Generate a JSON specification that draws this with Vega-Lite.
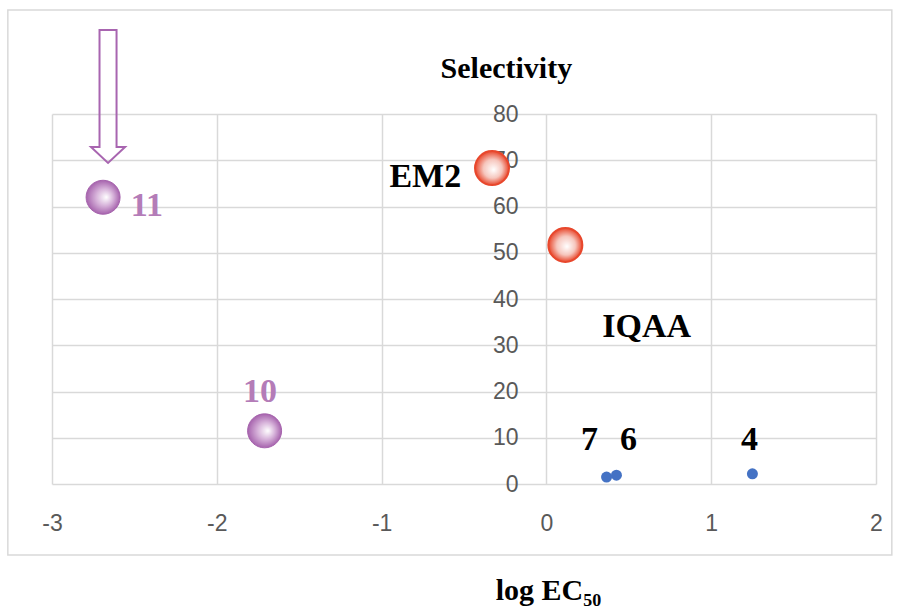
{
  "$schema": "https://vega.github.io/schema/vega-lite/v6.json",
  "width": 824,
  "height": 370,
  "autosize": "none",
  "padding": {"left": 52, "top": 114, "right": 30, "bottom": 123},
  "background": "white",
  "config": {
    "view": {"stroke": null},
    "axis": {"gridColor": "#d9d9d9", "gridWidth": 1.5, "domainColor": "#d9d9d9", "domainWidth": 1.5}
  },
  "datasets": {
    "pts": [
      {"compound": "11", "logEC50": -2.69, "selectivity": 62.0, "group": "purple"},
      {"compound": "10", "logEC50": -1.71, "selectivity": 11.5, "group": "purple"},
      {"compound": "EM2", "logEC50": -0.33, "selectivity": 68.3, "group": "red"},
      {"compound": "IQAA", "logEC50": 0.115, "selectivity": 51.7, "group": "red"},
      {"compound": "7", "logEC50": 0.365, "selectivity": 1.5, "group": "blue"},
      {"compound": "6", "logEC50": 0.425, "selectivity": 1.9, "group": "blue"},
      {"compound": "4", "logEC50": 1.25, "selectivity": 2.2, "group": "blue"}
    ],
    "labels": [
      {"text": "11", "lx": -2.424, "ly": 60.1, "tone": "purple"},
      {"text": "10", "lx": -1.738, "ly": 19.9, "tone": "purple"},
      {"text": "EM2", "lx": -0.735, "ly": 66.4, "tone": "black"},
      {"text": "IQAA", "lx": 0.608, "ly": 33.9, "tone": "black"},
      {"text": "7", "lx": 0.261, "ly": 9.5, "tone": "black"},
      {"text": "6", "lx": 0.498, "ly": 9.5, "tone": "black"},
      {"text": "4", "lx": 1.233, "ly": 9.5, "tone": "black"}
    ],
    "heading": [{"text": "Selectivity", "lx": -0.243, "ly": 89.7}],
    "one": [{}]
  },
  "layer": [
    {
      "data": {"name": "one"},
      "mark": {"type": "rect", "fillOpacity": 0, "stroke": "#d9d9d9", "strokeWidth": 1.5, "clip": false},
      "encoding": {
        "x": {"datum": -3.268, "type": "quantitative"},
        "x2": {"datum": 2.096},
        "y": {"datum": 102.5, "type": "quantitative"},
        "y2": {"datum": -15.35}
      }
    },
    {
      "data": {"name": "pts"},
      "transform": [{"filter": "datum.group === 'blue'"}],
      "mark": {"type": "circle", "size": 121, "color": "#4472c4", "opacity": 1},
      "encoding": {
        "x": {
          "field": "logEC50",
          "type": "quantitative",
          "scale": {"domain": [-3, 2], "nice": false, "zero": false},
          "axis": {
            "values": [-3, -2, -1, 0, 1, 2],
            "labelExpr": "datum.value < 0 ? '-' + abs(datum.value) : '' + datum.value",
            "labelFlush": false,
            "title": "log EC₅₀",
            "titleFont": "Liberation Serif",
            "titleFontSize": 30,
            "titleFontWeight": "bold",
            "titleColor": "black",
            "titlePadding": 40,
            "titleX": 496,
            "titleAnchor": "middle",
            "labelFont": "Liberation Sans",
            "labelFontSize": 23,
            "labelColor": "#595959",
            "labelPadding": 28,
            "ticks": false,
            "domain": false,
            "grid": true
          }
        },
        "y": {
          "field": "selectivity",
          "type": "quantitative",
          "scale": {"domain": [0, 80], "nice": false},
          "axis": {
            "values": [0, 10, 20, 30, 40, 50, 60, 70, 80],
            "title": null,
            "offset": -496,
            "labelFont": "Liberation Sans",
            "labelFontSize": 23,
            "labelColor": "#595959",
            "labelPadding": 30,
            "labelFlush": false,
            "ticks": false,
            "domain": false,
            "grid": true
          }
        }
      }
    },
    {
      "data": {"name": "pts"},
      "transform": [{"filter": "datum.group === 'purple'"}],
      "mark": {
        "type": "point",
        "shape": "circle",
        "size": 1156,
        "filled": true,
        "opacity": 1,
        "fill": {
          "gradient": "radial",
          "x1": 0.6, "y1": 0.5, "r1": 0,
          "x2": 0.5, "y2": 0.5, "r2": 0.5,
          "stops": [
            {"offset": 0, "color": "#ffffff"},
            {"offset": 0.5, "color": "#d7b3da"},
            {"offset": 1, "color": "#a663ad"}
          ]
        },
        "stroke": "#a663ad",
        "strokeWidth": 1
      },
      "encoding": {
        "x": {"field": "logEC50", "type": "quantitative"},
        "y": {"field": "selectivity", "type": "quantitative"}
      }
    },
    {
      "data": {"name": "pts"},
      "transform": [{"filter": "datum.group === 'red'"}],
      "mark": {
        "type": "point",
        "shape": "circle",
        "size": 1156,
        "filled": true,
        "opacity": 1,
        "fill": {
          "gradient": "radial",
          "x1": 0.55, "y1": 0.55, "r1": 0,
          "x2": 0.5, "y2": 0.5, "r2": 0.5,
          "stops": [
            {"offset": 0, "color": "#ffffff"},
            {"offset": 0.55, "color": "#f6c6bd"},
            {"offset": 1, "color": "#e8472c"}
          ]
        },
        "stroke": "#e8472c",
        "strokeWidth": 2
      },
      "encoding": {
        "x": {"field": "logEC50", "type": "quantitative"},
        "y": {"field": "selectivity", "type": "quantitative"}
      }
    },
    {
      "data": {"name": "labels"},
      "mark": {"type": "text", "font": "Liberation Serif", "fontSize": 34, "fontWeight": "bold", "align": "center", "baseline": "middle"},
      "encoding": {
        "x": {"field": "lx", "type": "quantitative"},
        "y": {"field": "ly", "type": "quantitative"},
        "text": {"field": "text"},
        "color": {"field": "tone", "type": "nominal", "scale": {"domain": ["purple", "black"], "range": ["#b47cb8", "#000000"]}, "legend": null}
      }
    },
    {
      "data": {"name": "heading"},
      "mark": {"type": "text", "font": "Liberation Serif", "fontSize": 30, "fontWeight": "bold", "align": "center", "baseline": "middle", "color": "black", "clip": false},
      "encoding": {
        "x": {"field": "lx", "type": "quantitative"},
        "y": {"field": "ly", "type": "quantitative"},
        "text": {"field": "text"}
      }
    },
    {
      "data": {"name": "one"},
      "mark": {
        "type": "point",
        "shape": "M -0.128 -1 L 0.128 -1 L 0.128 0.76 L 0.256 0.76 L 0 1 L -0.256 0.76 L -0.128 0.76 Z",
        "size": 17689,
        "filled": false,
        "stroke": "#a865b0",
        "strokeWidth": 2,
        "opacity": 1,
        "clip": false
      },
      "encoding": {
        "x": {"datum": -2.66, "type": "quantitative"},
        "y": {"datum": 83.8, "type": "quantitative"}
      }
    }
  ]
}
